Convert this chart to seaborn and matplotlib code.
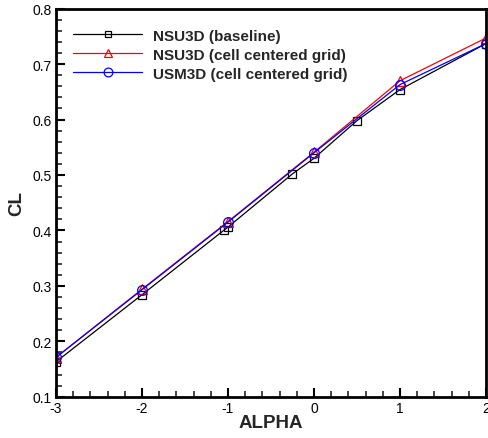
import matplotlib
matplotlib.use("Agg")
import matplotlib.pyplot as plt
from matplotlib.ticker import MultipleLocator
import seaborn as sns
import pandas as pd

# values
alpha_base = [-3, -2, -1.05, -1, -0.25, 0, 0.5, 1, 2]
cl_base = [0.163, 0.284, 0.400, 0.406, 0.502, 0.530, 0.598, 0.654, 0.737]

alpha_cell = [-3, -2, -1, 0, 1, 2]
cl_nsu_cell = [0.171, 0.294, 0.416, 0.541, 0.670, 0.747]
cl_usm_cell = [0.171, 0.293, 0.415, 0.540, 0.663, 0.737]

labels = ["NSU3D (baseline)", "NSU3D (cell centered grid)", "USM3D (cell centered grid)"]

sns.set_theme(style="white")
plt.rcParams["font.family"] = ["Liberation Sans", "DejaVu Sans"]

fig = plt.figure(figsize=(4.88, 4.39), dpi=100)
ax = fig.add_axes([0.1148, 0.094, 0.881, 0.884])

series = [
    (alpha_base, cl_base, labels[0], "black", "s", 5.5),
    (alpha_cell, cl_nsu_cell, labels[1], "red", "^", 6.5),
    (alpha_cell, cl_usm_cell, labels[2], "blue", "o", 7),
]
for xs, ys, lab, col, mk, ms in series:
    df = pd.DataFrame({"ALPHA": xs, "CL": ys})
    sns.lineplot(data=df, x="ALPHA", y="CL", ax=ax, color=col, marker=mk,
                 markersize=ms, markerfacecolor="none", markeredgecolor=col,
                 markeredgewidth=0.9, linewidth=0.9, label=lab)

ax.set_xlim(-3, 2)
ax.set_ylim(0.1, 0.8)
ax.xaxis.set_major_locator(MultipleLocator(1))
ax.xaxis.set_minor_locator(MultipleLocator(0.2))
ax.yaxis.set_major_locator(MultipleLocator(0.1))
ax.yaxis.set_minor_locator(MultipleLocator(0.02))
ax.set_xticklabels([f"{v:g}" for v in ax.get_xticks()])
ax.set_yticklabels([f"{v:.1f}" for v in ax.get_yticks()])

ax.tick_params(which="major", direction="in", length=6.5, width=1.5,
               labelsize=10, colors="black", pad=3, bottom=True, left=True)
ax.tick_params(which="minor", direction="in", length=4, width=1.2,
               bottom=True, left=True)
for sp in ax.spines.values():
    sp.set_linewidth(2)
    sp.set_color("black")

ax.set_xlabel("ALPHA", fontsize=13.5, fontweight="bold", labelpad=-1)
ax.set_ylabel("CL", fontsize=13.5, fontweight="bold", labelpad=5)

leg = ax.legend(loc="upper left", bbox_to_anchor=(0.04, 0.948), frameon=False,
                fontsize=11, handlelength=4.5, handletextpad=0.75,
                labelspacing=0.32, borderpad=0, borderaxespad=0, markerscale=0.9)
for t in leg.get_texts():
    t.set_fontweight("bold")

fig.savefig("out.png", dpi=100)
